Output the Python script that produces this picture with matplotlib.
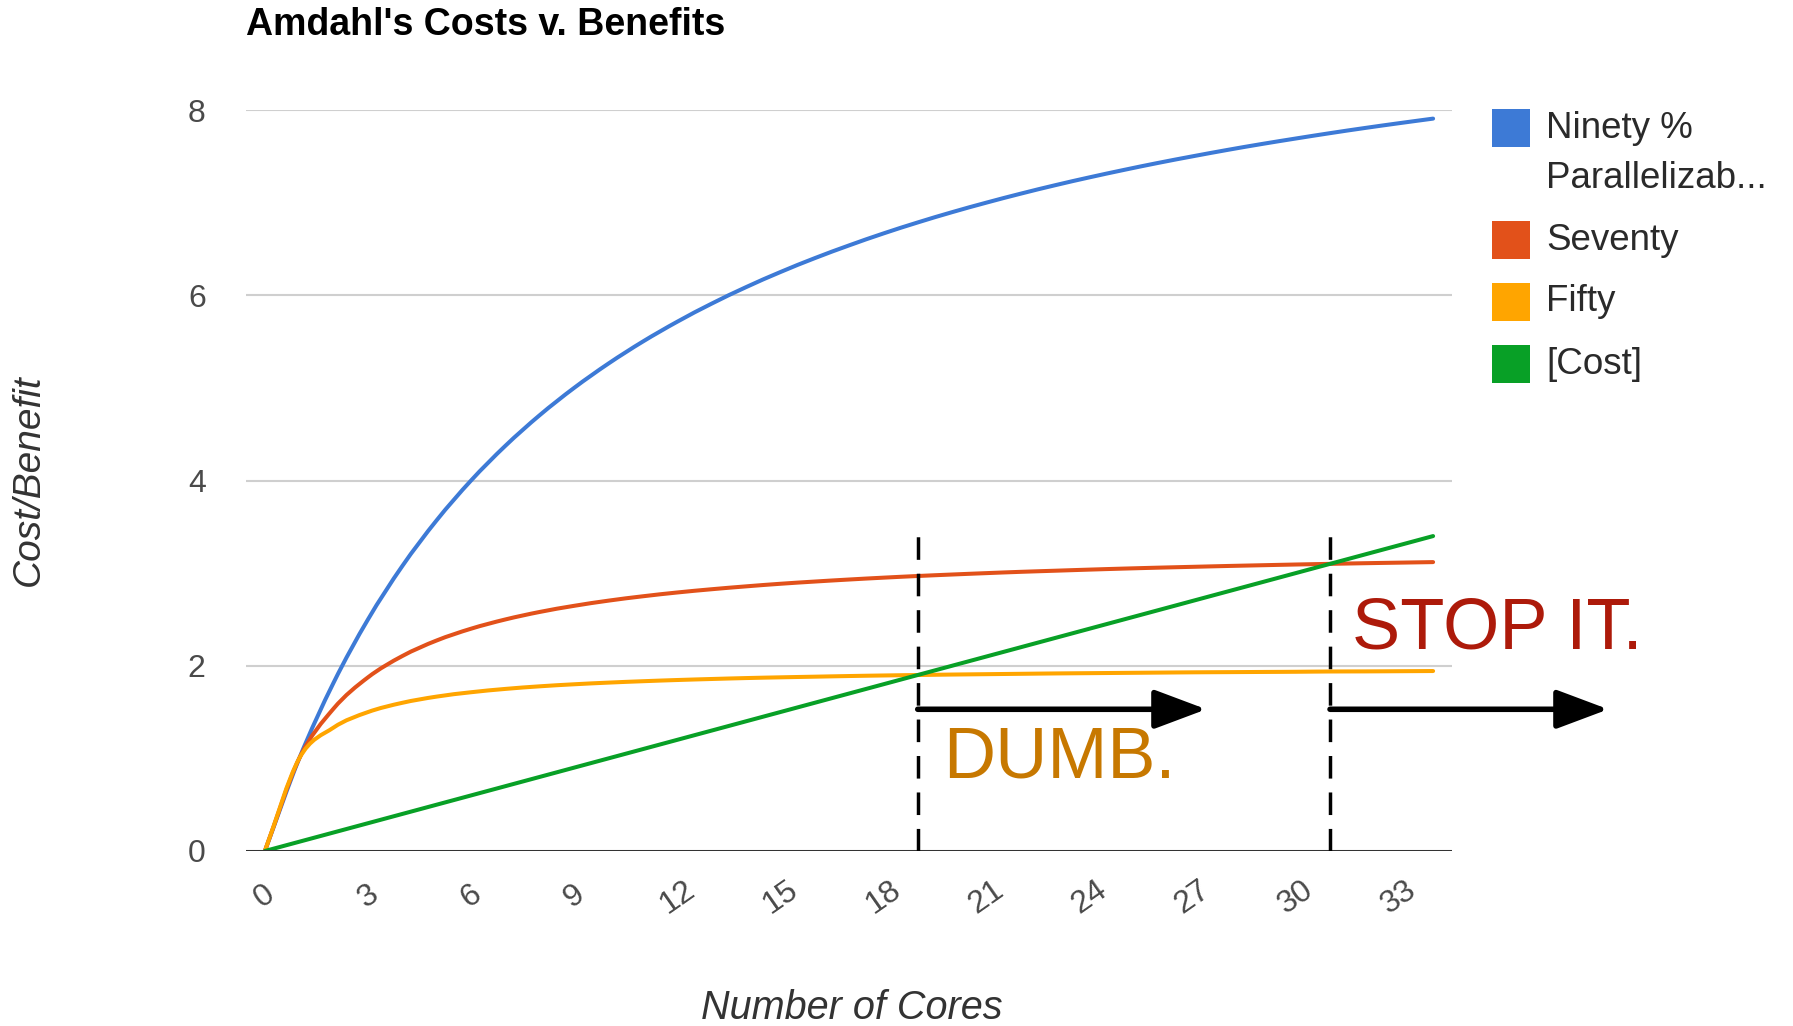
import matplotlib
matplotlib.use("Agg")
import matplotlib.pyplot as plt
from matplotlib.path import Path
from matplotlib.patches import PathPatch, Rectangle
from matplotlib import font_manager

# ---- data -------------------------------------------------------------
cores = list(range(35))
ninety = [0, 1.0, 1.818, 2.5, 3.077, 3.571, 4.0, 4.375, 4.706, 5.0, 5.263,
          5.5, 5.714, 5.909, 6.087, 6.25, 6.4, 6.538, 6.667, 6.786, 6.897,
          7.0, 7.097, 7.188, 7.273, 7.353, 7.429, 7.5, 7.568, 7.632, 7.692,
          7.75, 7.805, 7.857, 7.907]
seventy = [0, 1.0, 1.538, 1.875, 2.105, 2.273, 2.4, 2.5, 2.581, 2.647, 2.703,
           2.75, 2.791, 2.826, 2.857, 2.885, 2.909, 2.931, 2.951, 2.969, 2.985,
           3.0, 3.014, 3.026, 3.038, 3.049, 3.059, 3.068, 3.077, 3.085, 3.093,
           3.1, 3.107, 3.113, 3.119]
fifty = [0, 1.0, 1.333, 1.5, 1.6, 1.667, 1.714, 1.75, 1.778, 1.8, 1.818,
         1.833, 1.846, 1.857, 1.867, 1.875, 1.882, 1.889, 1.895, 1.9, 1.905,
         1.909, 1.913, 1.917, 1.92, 1.923, 1.926, 1.929, 1.931, 1.933, 1.935,
         1.938, 1.939, 1.941, 1.943]
cost = [0, 0.1, 0.2, 0.3, 0.4, 0.5, 0.6, 0.7, 0.8, 0.9, 1.0, 1.1, 1.2, 1.3,
        1.4, 1.5, 1.6, 1.7, 1.8, 1.9, 2.0, 2.1, 2.2, 2.3, 2.4, 2.5, 2.6, 2.7,
        2.8, 2.9, 3.0, 3.1, 3.2, 3.3, 3.4]

series_names = ["Ninety %\nParallelizab...", "Seventy", "Fifty", "[Cost]"]
series_colors = ["#3d7ad6", "#e2511a", "#ffa500", "#08a026"]

x_ticks = list(range(0, 34, 3))
y_ticks = [0, 2, 4, 6, 8]

dumb_at = 19      # cost overtakes the 50% curve
stop_at = 31      # cost overtakes the 70% curve

# ---- fonts ------------------------------------------------------------
available = {f.name for f in font_manager.fontManager.ttflist}
base_font = "Liberation Sans" if "Liberation Sans" in available else "DejaVu Sans"
narrow_font = "Liberation Sans Narrow" if "Liberation Sans Narrow" in available else base_font
plt.rcParams["font.family"] = [base_font, "DejaVu Sans"]

W, H = 1793, 1026
fig = plt.figure(figsize=(W / 100, H / 100), dpi=100)


def fx(px):
    return px / W


def fy(py):
    return 1 - py / H


ax = fig.add_axes([fx(246), fy(851), fx(1452 - 246), (851 - 110) / H])
ax.set_xlim(-0.55, 34.55)
ax.set_ylim(0, 8)


def smooth_path(xs, ys):
    """Catmull-Rom style cubic Bezier path through the data points."""
    verts = [(xs[0], ys[0])]
    codes = [Path.MOVETO]
    n = len(xs)
    for i in range(n - 1):
        x0, y0 = xs[i], ys[i]
        x1, y1 = xs[i + 1], ys[i + 1]
        if i == 0:
            tx0, ty0 = x1 - x0, y1 - y0
        else:
            tx0, ty0 = (x1 - xs[i - 1]) / 2, (y1 - ys[i - 1]) / 2
        if i + 2 < n:
            tx1, ty1 = (xs[i + 2] - x0) / 2, (ys[i + 2] - y0) / 2
        else:
            tx1, ty1 = x1 - x0, y1 - y0
        verts += [(x0 + tx0 / 3, y0 + ty0 / 3), (x1 - tx1 / 3, y1 - ty1 / 3), (x1, y1)]
        codes += [Path.CURVE4] * 3
    return Path(verts, codes)


# gridlines and baseline
for yv in y_ticks[1:]:
    ax.axhline(yv, color="#cfcfcf", lw=1.5, zorder=1)

for vals, col in zip([ninety, seventy, fifty, cost], series_colors):
    ax.add_patch(PathPatch(smooth_path(cores, vals), facecolor="none",
                           edgecolor=col, lw=2.9, zorder=3,
                           capstyle="round", joinstyle="round"))

ax.axhline(0, color="#333333", lw=2.2, zorder=4)

for s in ax.spines.values():
    s.set_visible(False)

ax.set_xticks(x_ticks)
ax.set_xticklabels([str(t) for t in x_ticks], rotation=35, ha="center",
                   va="center", rotation_mode="anchor")
ax.set_yticks(y_ticks)
ax.set_yticklabels([str(t) for t in y_ticks])
ax.tick_params(axis="x", length=0, pad=33, labelsize=23, labelcolor="#4a4a4a")
ax.tick_params(axis="y", length=0, pad=29, labelsize=23, labelcolor="#4a4a4a")

# threshold markers
ax.vlines([dumb_at, stop_at], 0, 3.45, colors="black", lw=2.5,
          linestyles=(0, (6.5, 4)), zorder=5)

arrow_y = 1.53
for start, end in [(dumb_at, 27.4), (stop_at, 39.1)]:
    ax.annotate("", xy=(end, arrow_y), xytext=(start, arrow_y),
                arrowprops=dict(arrowstyle="-|>,head_length=3.2,head_width=1.2",
                                lw=4.0, color="black", shrinkA=0, shrinkB=0),
                annotation_clip=False, zorder=6)

ax.text(19.75, 0.79, "DUMB.", color="#c77800", fontsize=52,
        ha="left", va="baseline", zorder=6, clip_on=False)
ax.text(31.65, 2.19, "STOP IT.", color="#ad1a0a", fontsize=52,
        ha="left", va="baseline", zorder=6, clip_on=False)

# titles
fig.text(fx(246), fy(25), "Amdahl's Costs v. Benefits", fontsize=27,
         fontweight="bold", family=[narrow_font, "DejaVu Sans"],
         ha="left", va="center", color="black")
fig.text(fx(852), fy(1008), "Number of Cores", fontsize=28.5, style="italic",
         ha="center", va="center", color="#333333")
fig.text(fx(29), fy(480), "Cost/Benefit", fontsize=28, style="italic",
         rotation=90, ha="center", va="center", color="#333333")

# legend
legend_rows = [128, 240, 302, 364]
for name, col, yc in zip(series_names, series_colors, legend_rows):
    fig.patches.append(Rectangle((fx(1492), fy(yc + 19)), fx(38), 38 / H,
                                 transform=fig.transFigure, facecolor=col,
                                 edgecolor="none"))
    lines = name.split("\n")
    for k, line in enumerate(lines):
        fig.text(fx(1546), fy(yc + 51 * k), line, fontsize=26.5,
                 ha="left", va="center", color="#2a2a2a")

fig.savefig("out.png", dpi=100)
